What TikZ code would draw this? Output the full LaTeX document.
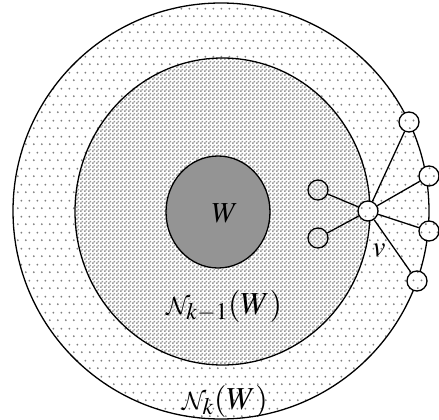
\documentclass[tikz,border=0pt]{standalone}
\usetikzlibrary{patterns}
\usepackage{amsmath}
\usepackage{mathptmx}
\DeclareMathAlphabet{\mathcal}{OMS}{cmsy}{m}{n}

\pgfdeclarepatternformonly{sparsedots}{\pgfqpoint{0pt}{0pt}}{\pgfqpoint{8pt}{16pt}}{\pgfqpoint{8pt}{16pt}}{%
\pgfpathcircle{\pgfqpoint{2pt}{4pt}}{1.1pt}%
\pgfpathcircle{\pgfqpoint{6pt}{12pt}}{1.1pt}%
\pgfusepath{fill}}
\pgfdeclarepatternformonly{finechecker}{\pgfqpoint{0pt}{0pt}}{\pgfqpoint{4pt}{4pt}}{\pgfqpoint{4pt}{4pt}}{%
\pgfpathrectangle{\pgfqpoint{0pt}{0pt}}{\pgfqpoint{2pt}{2pt}}%
\pgfpathrectangle{\pgfqpoint{2pt}{2pt}}{\pgfqpoint{2pt}{2pt}}%
\pgfusepath{fill}}

\begin{document}
\begin{tikzpicture}[
x=1pt,y=-1pt,
line width=1.3pt,
outerzone/.style={preaction={fill=white},pattern=sparsedots,pattern color=black!50},
innerzone/.style={preaction={fill=white},pattern=finechecker,pattern color=black!40},
vtx/.style={draw,circle,minimum size=20pt,inner sep=0pt},
lbl/.style={font=\fontsize{29}{31}\selectfont},
biglbl/.style={font=\fontsize{32}{34}\selectfont}]

\useasboundingbox (0,0) rectangle (439,420);

\draw[outerzone] (221,211) ellipse [x radius=208,y radius=208];
\draw[innerzone] (222.5,211.5) ellipse [x radius=147.5,y radius=153.5];
\draw[fill=black!42] (218,212) ellipse [x radius=52,y radius=56];

\node[lbl] (w) at (225,213) {$W$};
\node[biglbl] (nk1) at (224,306) {$\mathcal{N}_{k-1}(W)$};
\node[biglbl] (nk) at (225,401) {$\mathcal{N}_{k}(W)$};

\node[vtx,outerzone] (v) at (368,211) {};
\node[vtx,innerzone] (a) at (318,190) {};
\node[vtx,innerzone] (b) at (318,238) {};
\node[vtx,outerzone] (p1) at (409,122) {};
\node[vtx,outerzone] (p2) at (429,176) {};
\node[vtx,outerzone] (p3) at (429,231) {};
\node[vtx,outerzone] (p4) at (417,281) {};
\node[lbl] (vl) at (379,250) {$v$};

\foreach \n in {a,b,p1,p2,p3,p4}
\draw (v) -- (\n);

\end{tikzpicture}
\end{document}
